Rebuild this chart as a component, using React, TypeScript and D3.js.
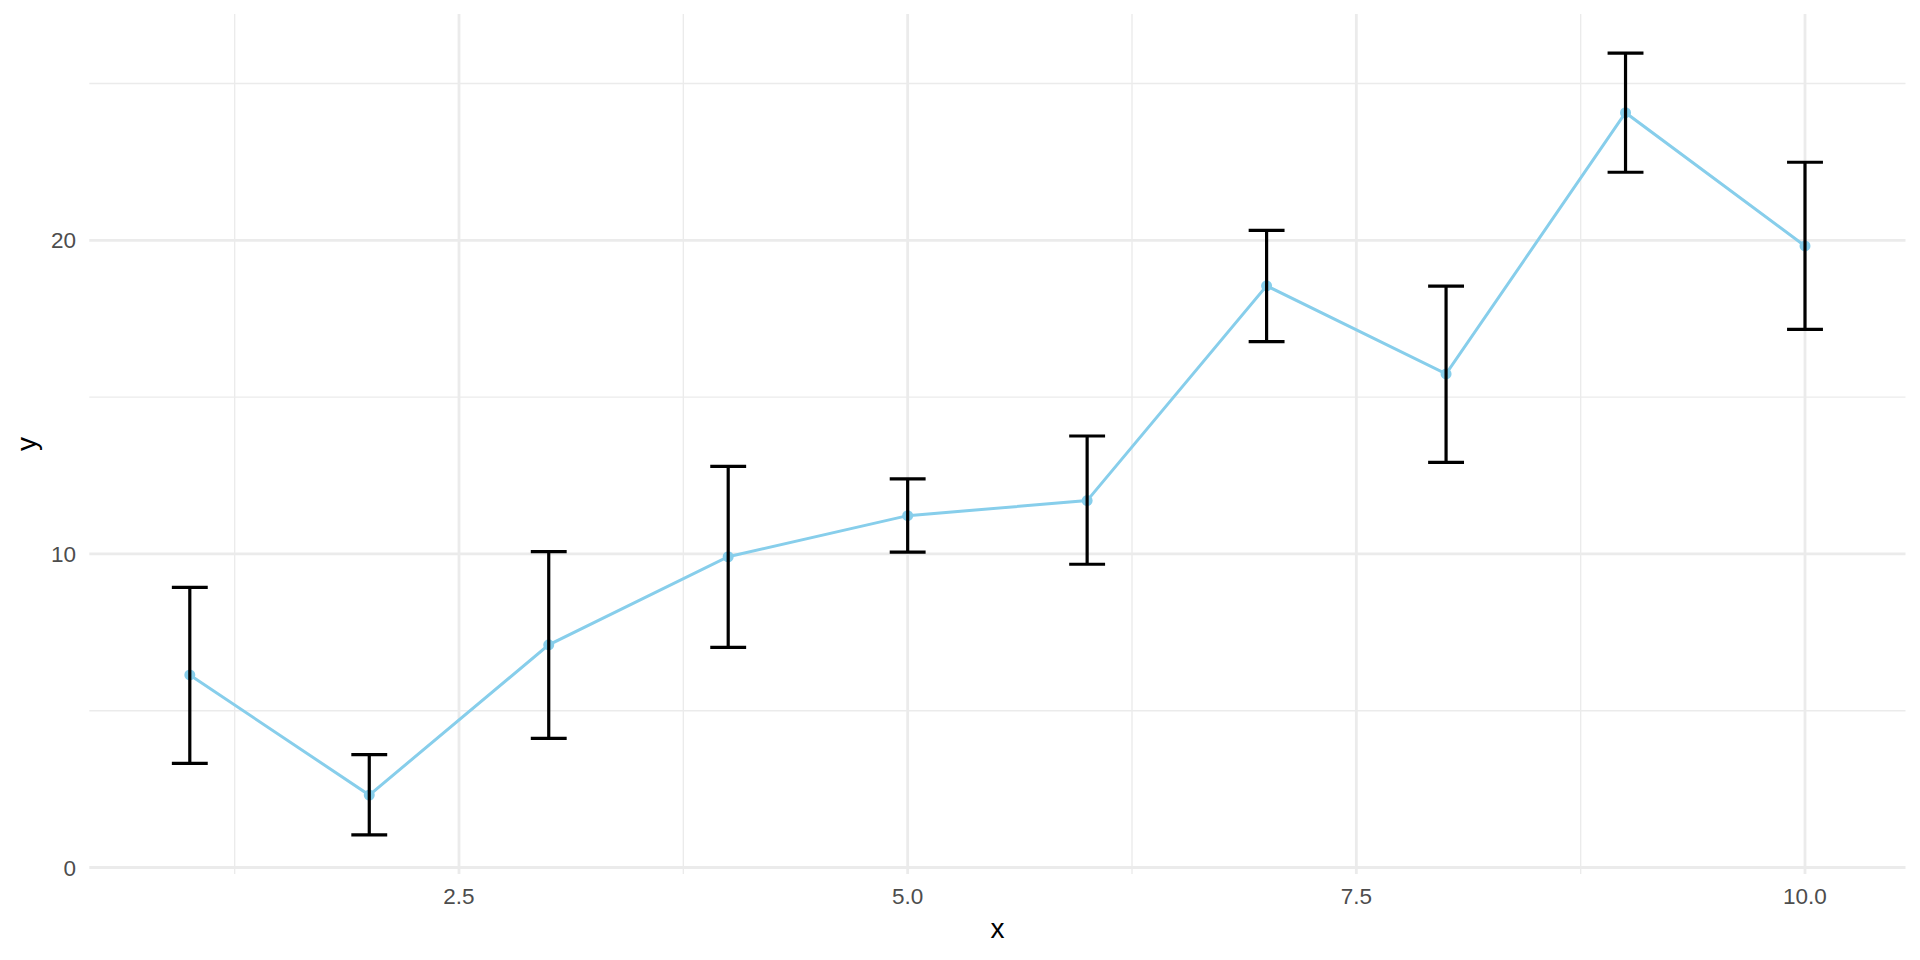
import React from "react";
import * as d3 from "d3";

const xs = [1, 2, 3, 4, 5, 6, 7, 8, 9, 10];
const ys = [6.14, 2.31, 7.10, 9.91, 11.22, 11.70, 18.55, 15.74, 24.07, 19.82];
const yLow = [3.32, 1.04, 4.12, 7.02, 10.06, 9.67, 16.77, 12.92, 22.17, 17.16];
const yHigh = [8.93, 3.60, 10.07, 12.79, 12.39, 13.76, 20.32, 18.54, 25.97, 22.49];
const xMajor = [2.5, 5.0, 7.5, 10.0];
const xMinor = [1.25, 3.75, 6.25, 8.75];
const yMajor = [0, 10, 20];
const yMinor = [5, 15, 25];
const barWidth = 0.2;

const W = 1920, H = 960;
const left = 89.3, right = 1905.5, top = 14, bottom = 874;

export default function App() {
  const xLo = d3.min(xs)! - barWidth / 2;
  const xHi = d3.max(xs)! + barWidth / 2;
  const xe = (xHi - xLo) * 0.05;
  const yLo = d3.min(yLow)!;
  const yHi = d3.max(yHigh)!;
  const ye = (yHi - yLo) * 0.05;
  const x = d3.scaleLinear().domain([xLo - xe, xHi + xe]).range([left, right]);
  const y = d3.scaleLinear().domain([yLo - ye, yHi + ye]).range([bottom, top]);
  const line = d3.line<number>().x((_, i) => x(xs[i])).y((d) => y(d));
  const grid = "#EBEBEB";
  const font = "'Liberation Sans', Arial, sans-serif";
  return (
    <svg width={W} height={H} style={{ position: "absolute", left: 0, top: 0, background: "#fff" }} fontFamily={font}>
      <rect width={W} height={H} fill="#fff" />
      {yMinor.map((v) => (
        <line key={"ym" + v} x1={left} x2={right} y1={y(v)} y2={y(v)} stroke={grid} strokeWidth={1.4} />
      ))}
      {xMinor.map((v) => (
        <line key={"xm" + v} x1={x(v)} x2={x(v)} y1={top} y2={bottom} stroke={grid} strokeWidth={1.4} />
      ))}
      {yMajor.map((v) => (
        <line key={"yM" + v} x1={left} x2={right} y1={y(v)} y2={y(v)} stroke={grid} strokeWidth={2.8} />
      ))}
      {xMajor.map((v) => (
        <line key={"xM" + v} x1={x(v)} x2={x(v)} y1={top} y2={bottom} stroke={grid} strokeWidth={2.8} />
      ))}
      <path d={line(ys) || ""} fill="none" stroke="#87CEEB" strokeWidth={3} />
      {ys.map((v, i) => (
        <circle key={"p" + i} cx={x(xs[i])} cy={y(v)} r={5.5} fill="#87CEEB" />
      ))}
      {xs.map((xv, i) => (
        <g key={"e" + i} stroke="#000" strokeWidth={3.2} fill="none">
          <line x1={x(xv)} x2={x(xv)} y1={y(yLow[i])} y2={y(yHigh[i])} />
          <line x1={x(xv - barWidth / 2)} x2={x(xv + barWidth / 2)} y1={y(yLow[i])} y2={y(yLow[i])} />
          <line x1={x(xv - barWidth / 2)} x2={x(xv + barWidth / 2)} y1={y(yHigh[i])} y2={y(yHigh[i])} />
        </g>
      ))}
      {yMajor.map((v) => (
        <text key={"yt" + v} x={76} y={y(v)} dy="0.36em" textAnchor="end" fontSize={22.5} fill="#4D4D4D">
          {d3.format("d")(v)}
        </text>
      ))}
      {xMajor.map((v) => (
        <text key={"xt" + v} x={x(v)} y={904} textAnchor="middle" fontSize={22.5} fill="#4D4D4D">
          {d3.format(".1f")(v)}
        </text>
      ))}
      <text x={(left + right) / 2} y={938} textAnchor="middle" fontSize={28} fill="#000">x</text>
      <text transform={`translate(35.5, ${(top + bottom) / 2}) rotate(-90)`} textAnchor="middle" fontSize={28} fill="#000">y</text>
    </svg>
  );
}
